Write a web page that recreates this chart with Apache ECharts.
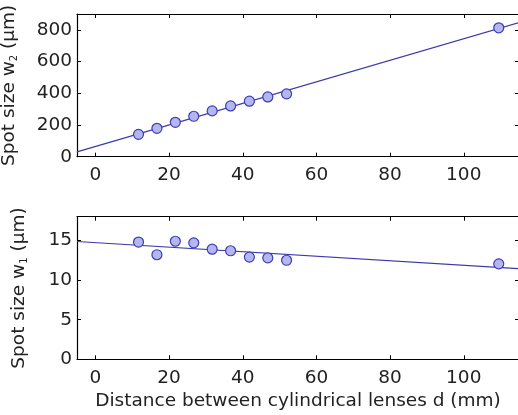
<!DOCTYPE html>
<html>
<head>
<meta charset="utf-8">
<script src="https://cdn.jsdelivr.net/npm/echarts@6/dist/echarts.min.js"></script>
<style>
  html, body { margin: 0; padding: 0; background: #fff; }
  #chart { width: 518px; height: 415px; }
</style>
</head>
<body>
<div id="chart"></div>
<script>
// Distance between the cylindrical lenses (mm)
const distance = [11.7, 16.7, 21.7, 26.7, 31.7, 36.7, 41.8, 46.8, 51.9, 109.5];
// Measured spot sizes (µm)
const spotW2 = [141, 179, 217, 255, 289, 320, 350, 377, 396, 813];
const spotW1 = [14.8, 13.2, 14.9, 14.7, 13.9, 13.7, 12.9, 12.8, 12.5, 12.05];
// Linear fits, evaluated at the ends of the x range
const fitX = [-5, 115];
const fitW2 = [30, 846];
const fitW1 = [14.87, 11.45];
// Axis ticks
const xTicks = [0, 20, 40, 60, 80, 100];
const w2Ticks = [0, 200, 400, 600, 800];
const w1Ticks = [0, 5, 10, 15];

const FONT = 'DejaVu Sans, Liberation Sans, Arial, sans-serif';
const FS = 18.5;
const TXT = '#222';
const LINE = '#3a3aae';
const FILL = '#b6b6ee';
const EDGE = '#3d3db5';

const pairs = (xs, ys) => xs.map((x, i) => [x, ys[i]]);

function xAxes(gi, showLabels) {
  const base = {
    type: 'value', min: -5, max: 115, interval: 20, gridIndex: gi,
    splitLine: { show: false },
    axisLine: { show: true, onZero: false, lineStyle: { color: '#000', width: 1.2 } },
    axisTick: { show: true, inside: true, length: 4, lineStyle: { color: '#000' },
      customValues: xTicks },
  };
  return [
    Object.assign({}, base, {
      position: 'bottom',
      axisLabel: { show: true, customValues: xTicks, fontFamily: FONT, fontSize: FS, color: TXT, margin: 9 },
      name: showLabels ? 'Distance between cylindrical lenses d (mm)' : '',
      nameLocation: 'middle', nameGap: 32,
      nameTextStyle: { fontFamily: FONT, fontSize: FS, color: TXT },
    }),
    Object.assign({}, base, { position: 'top', axisLabel: { show: false } }),
  ];
}

function yAxes(gi, max, ticks, sub, gap) {
  const base = {
    type: 'value', min: 0, max: max, gridIndex: gi,
    splitLine: { show: false },
    axisLine: { show: true, onZero: false, lineStyle: { color: '#000', width: 1.2 } },
    axisTick: { show: true, inside: true, length: 4, lineStyle: { color: '#000' }, customValues: ticks },
  };
  return [
    Object.assign({}, base, {
      position: 'left',
      axisLabel: { show: true, customValues: ticks, fontFamily: FONT, fontSize: FS, color: TXT, margin: 5 },
      name: 'Spot size w{s|' + sub + '} (μm)',
      nameLocation: 'middle', nameRotate: 90, nameGap: gap,
      nameTextStyle: {
        fontFamily: FONT, fontSize: FS, color: TXT,
        rich: { s: { fontFamily: FONT, fontSize: 10, color: TXT, verticalAlign: 'bottom', lineHeight: 12, padding: [6, 0, 0, 0] } }
      },
    }),
    Object.assign({}, base, { position: 'right', axisLabel: { show: false } }),
  ];
}

function scatter(xi, yi, ys) {
  return {
    type: 'scatter', xAxisIndex: xi, yAxisIndex: yi,
    data: pairs(distance, ys), symbol: 'circle', symbolSize: 10, z: 3,
    itemStyle: { color: FILL, borderColor: EDGE, borderWidth: 1.2, opacity: 1 },
  };
}
function fit(xi, yi, ys) {
  return {
    type: 'line', xAxisIndex: xi, yAxisIndex: yi,
    data: pairs(fitX, ys), symbol: 'none', z: 2,
    lineStyle: { color: LINE, width: 1.2 },
  };
}

const chart = echarts.init(document.getElementById('chart'), null, { renderer: 'canvas' });
chart.setOption({
  backgroundColor: '#fff',
  animation: false,
  grid: [
    { left: 77, right: -1, top: 14, height: 142.7, containLabel: false, outerBoundsMode: 'none' },
    { left: 77, right: -1, top: 216.7, height: 142.6, containLabel: false, outerBoundsMode: 'none' },
  ],
  xAxis: [...xAxes(0, false), ...xAxes(1, true)],
  yAxis: [...yAxes(0, 900, w2Ticks, '2', 58), ...yAxes(1, 18, w1Ticks, '1', 48)],
  series: [
    fit(0, 0, fitW2), scatter(0, 0, spotW2),
    fit(2, 2, fitW1), scatter(2, 2, spotW1),
  ],
});
</script>
</body>
</html>
